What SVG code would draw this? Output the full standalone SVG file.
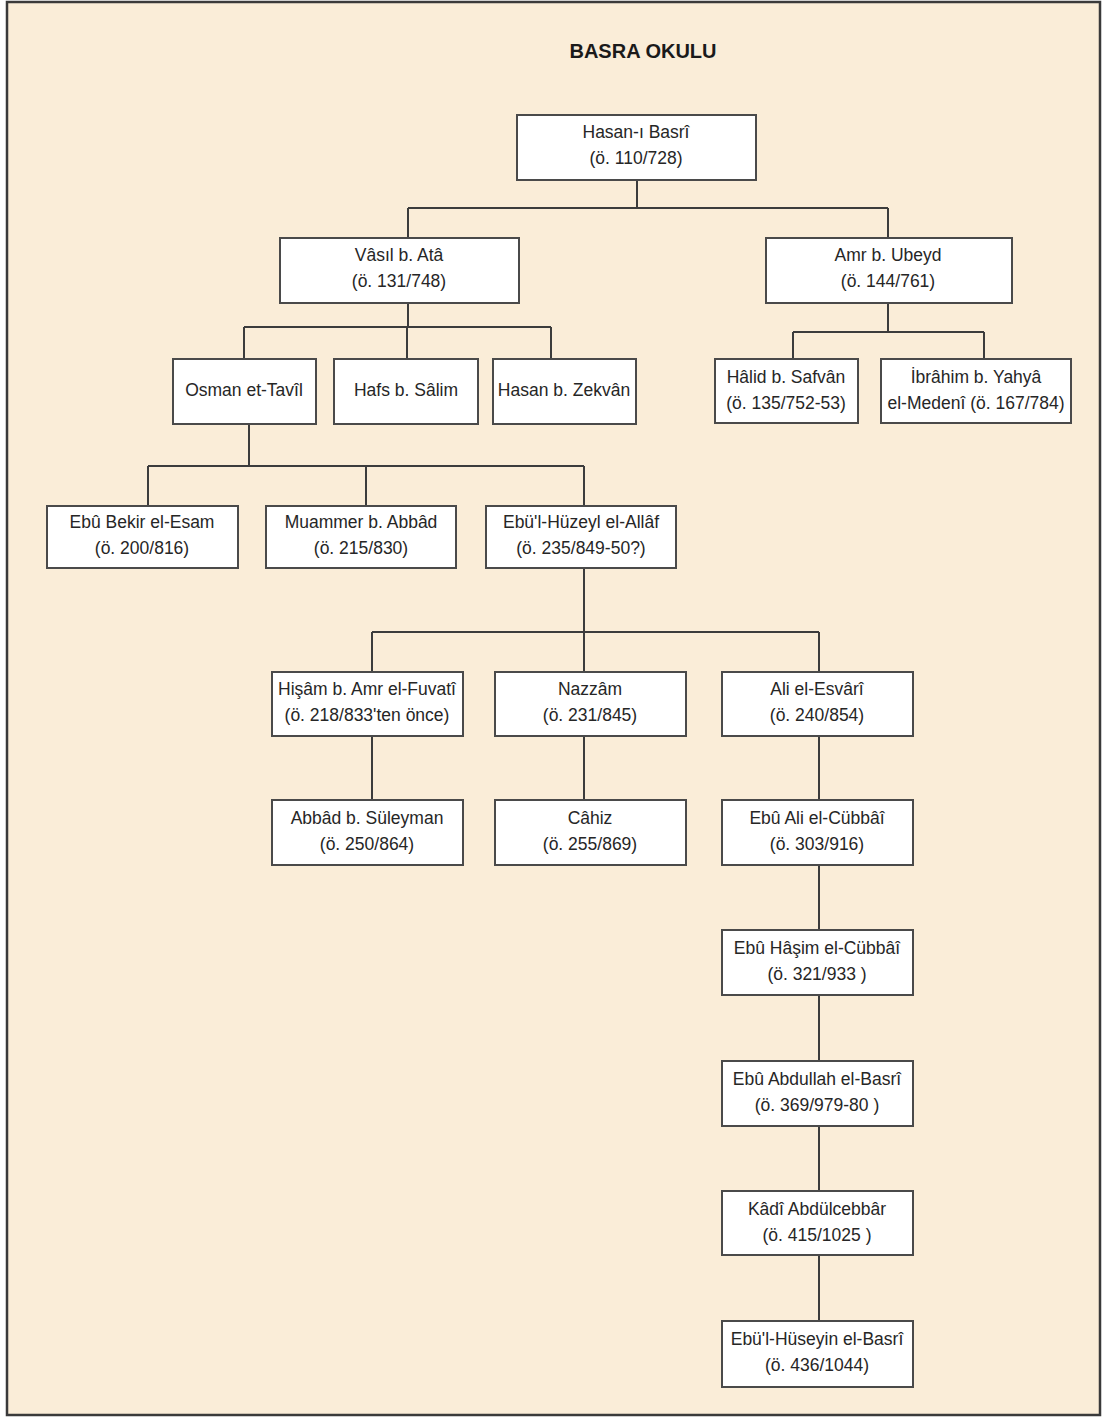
<svg xmlns="http://www.w3.org/2000/svg" width="1103" height="1417" viewBox="0 0 1103 1417">
<style>
.frame{fill:#FAEDD8;stroke:#3a3a3a;stroke-width:2.5}
.box{fill:#ffffff;stroke:#4a4a4a;stroke-width:2}
.t{font-family:"Liberation Sans",Arial,sans-serif;font-size:17.5px;fill:#262626;text-anchor:middle}
.title{font-family:"Liberation Sans",Arial,sans-serif;font-size:20px;font-weight:bold;fill:#1a1a1a;text-anchor:middle}
.c{fill:none;stroke:#3c3c3c;stroke-width:2}
</style>
<rect x="0" y="0" width="1103" height="1417" fill="#ffffff"/>
<rect class="frame" x="7" y="2" width="1093" height="1413"/>
<text class="title" x="643" y="58">BASRA OKULU</text>
<g id="connectors">
<path class="c" d="M637 180V208M408 208H888M408 208V238M888 208V238"/>
<path class="c" d="M408 303V327M244 327H551M244 327V359M407 327V359M551 327V359"/>
<path class="c" d="M888 303V332M793 332H984M793 332V359M984 332V359"/>
<path class="c" d="M249 424V466M148 466H584M148 466V506M366 466V506M584 466V506"/>
<path class="c" d="M584 568V632M372 632H819M372 632V672M584 632V672M819 632V672"/>
<path class="c" d="M372 736V800M584 736V800M819 736V800"/>
<path class="c" d="M819 865V930M819 995V1061M819 1126V1191M819 1255V1321"/>
</g>
<g id="hasan-basri"><rect class="box" x="517" y="115" width="239" height="65"/><text class="t" x="636" y="138">Hasan-ı Basrî</text><text class="t" x="636" y="164">(ö. 110/728)</text></g>
<g id="vasil"><rect class="box" x="280" y="238" width="239" height="65"/><text class="t" x="399" y="261">Vâsıl b. Atâ</text><text class="t" x="399" y="287">(ö. 131/748)</text></g>
<g id="amr"><rect class="box" x="766" y="238" width="246" height="65"/><text class="t" x="888" y="261">Amr b. Ubeyd</text><text class="t" x="888" y="287">(ö. 144/761)</text></g>
<g id="osman"><rect class="box" x="173" y="359" width="143" height="65"/><text class="t" x="244" y="396">Osman et-Tavîl</text></g>
<g id="hafs"><rect class="box" x="334" y="359" width="144" height="65"/><text class="t" x="406" y="396">Hafs b. Sâlim</text></g>
<g id="hasan-zekvan"><rect class="box" x="493" y="359" width="143" height="65"/><text class="t" x="564" y="396">Hasan b. Zekvân</text></g>
<g id="halid"><rect class="box" x="715" y="359" width="143" height="64"/><text class="t" x="786" y="383">Hâlid b. Safvân</text><text class="t" x="786" y="409">(ö. 135/752-53)</text></g>
<g id="ibrahim"><rect class="box" x="881" y="359" width="190" height="64"/><text class="t" x="976" y="383">İbrâhim b. Yahyâ</text><text class="t" x="976" y="409">el-Medenî (ö. 167/784)</text></g>
<g id="ebu-bekir"><rect class="box" x="47" y="506" width="191" height="62"/><text class="t" x="142" y="528">Ebû Bekir el-Esam</text><text class="t" x="142" y="554">(ö. 200/816)</text></g>
<g id="muammer"><rect class="box" x="266" y="506" width="190" height="62"/><text class="t" x="361" y="528">Muammer b. Abbâd</text><text class="t" x="361" y="554">(ö. 215/830)</text></g>
<g id="allaf"><rect class="box" x="486" y="506" width="190" height="62"/><text class="t" x="581" y="528">Ebü'l-Hüzeyl el-Allâf</text><text class="t" x="581" y="554">(ö. 235/849-50?)</text></g>
<g id="hisam"><rect class="box" x="272" y="672" width="191" height="64"/><text class="t" x="367" y="695">Hişâm b. Amr el-Fuvatî</text><text class="t" x="367" y="721">(ö. 218/833'ten önce)</text></g>
<g id="nazzam"><rect class="box" x="495" y="672" width="191" height="64"/><text class="t" x="590" y="695">Nazzâm</text><text class="t" x="590" y="721">(ö. 231/845)</text></g>
<g id="esvari"><rect class="box" x="722" y="672" width="191" height="64"/><text class="t" x="817" y="695">Ali el-Esvârî</text><text class="t" x="817" y="721">(ö. 240/854)</text></g>
<g id="abbad"><rect class="box" x="272" y="800" width="191" height="65"/><text class="t" x="367" y="824">Abbâd b. Süleyman</text><text class="t" x="367" y="850">(ö. 250/864)</text></g>
<g id="cahiz"><rect class="box" x="495" y="800" width="191" height="65"/><text class="t" x="590" y="824">Câhiz</text><text class="t" x="590" y="850">(ö. 255/869)</text></g>
<g id="ebu-ali"><rect class="box" x="722" y="800" width="191" height="65"/><text class="t" x="817" y="824">Ebû Ali el-Cübbâî</text><text class="t" x="817" y="850">(ö. 303/916)</text></g>
<g id="ebu-hasim"><rect class="box" x="722" y="930" width="191" height="65"/><text class="t" x="817" y="954">Ebû Hâşim el-Cübbâî</text><text class="t" x="817" y="980">(ö. 321/933 )</text></g>
<g id="ebu-abdullah"><rect class="box" x="722" y="1061" width="191" height="65"/><text class="t" x="817" y="1085">Ebû Abdullah el-Basrî</text><text class="t" x="817" y="1111">(ö. 369/979-80 )</text></g>
<g id="kadi"><rect class="box" x="722" y="1191" width="191" height="64"/><text class="t" x="817" y="1215">Kâdî Abdülcebbâr</text><text class="t" x="817" y="1241">(ö. 415/1025 )</text></g>
<g id="ebul-huseyin"><rect class="box" x="722" y="1321" width="191" height="66"/><text class="t" x="817" y="1345">Ebü'l-Hüseyin el-Basrî</text><text class="t" x="817" y="1371">(ö. 436/1044)</text></g>
</svg>
